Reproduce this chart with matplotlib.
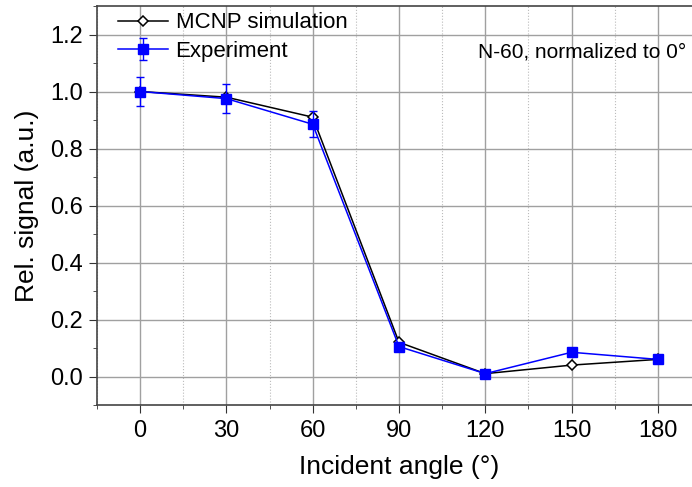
import matplotlib
matplotlib.use("Agg")
import matplotlib.pyplot as plt
from matplotlib.ticker import MultipleLocator, FormatStrFormatter
from matplotlib.transforms import IdentityTransform

angles = [0, 30, 60, 90, 120, 150, 180]
mcnp = [1.0, 0.98, 0.91, 0.12, 0.01, 0.04, 0.06]
experiment = [1.0, 0.975, 0.885, 0.105, 0.01, 0.085, 0.06]
exp_err = [0.05, 0.05, 0.045, 0.01, 0.005, 0.005, 0.005]

plt.rcParams['font.family'] = ['Liberation Sans', 'DejaVu Sans']
fig = plt.figure(figsize=(6.92, 4.87), dpi=100)
W, H = 692, 487
ax = fig.add_axes([97 / W, (H - 405) / H, 604 / W, 399 / H])

ax.plot(angles, mcnp, color='black', lw=1.1, marker='D', ms=5,
        mfc='white', mec='black', mew=1.1, label='MCNP simulation', zorder=3)
ax.errorbar(angles, experiment, yerr=exp_err, color='blue', lw=1.1,
            marker='s', ms=7, mfc='blue', mec='blue', capsize=3.2,
            elinewidth=1.0, label='Experiment', zorder=4)

ax.set_xlim(-15, 195)
ax.set_ylim(-0.1, 1.3)
ax.xaxis.set_major_locator(MultipleLocator(30))
ax.xaxis.set_minor_locator(MultipleLocator(15))
ax.yaxis.set_major_locator(MultipleLocator(0.2))
ax.yaxis.set_minor_locator(MultipleLocator(0.1))
ax.yaxis.set_major_formatter(FormatStrFormatter('%.1f'))

ax.grid(which='major', color='#a0a0a0', lw=1.0, ls='-')
ax.grid(which='minor', axis='x', color='#bbbbbb', lw=0.8, ls=':')
ax.set_axisbelow(True)

ax.tick_params(which='both', direction='out', labelsize=17, color='#333333',
               top=False)
ax.tick_params(axis='x', which='major', length=6, pad=5)
ax.tick_params(axis='y', which='major', length=6, pad=4)
ax.tick_params(which='minor', length=3)
for s in ax.spines.values():
    s.set_color('#444444')
    s.set_linewidth(1.2)

ax.set_xlabel('Incident angle (°)', fontsize=19, labelpad=9)
ax.set_ylabel('Rel. signal (a.u.)', fontsize=19, labelpad=8)

ax.legend(loc='upper left', bbox_to_anchor=(0.016, 1.012), frameon=False,
          fontsize=16, handlelength=2.25, borderpad=0.2, labelspacing=0.33,
          handletextpad=0.35, borderaxespad=0.3)
t = ax.text(0, 0, 'N-60, normalized to 0°', fontsize=15,
            va='center', ha='left')
t.set_transform(IdentityTransform())
t.set_position((478, H - 52))

fig.savefig('out.png', dpi=100)
